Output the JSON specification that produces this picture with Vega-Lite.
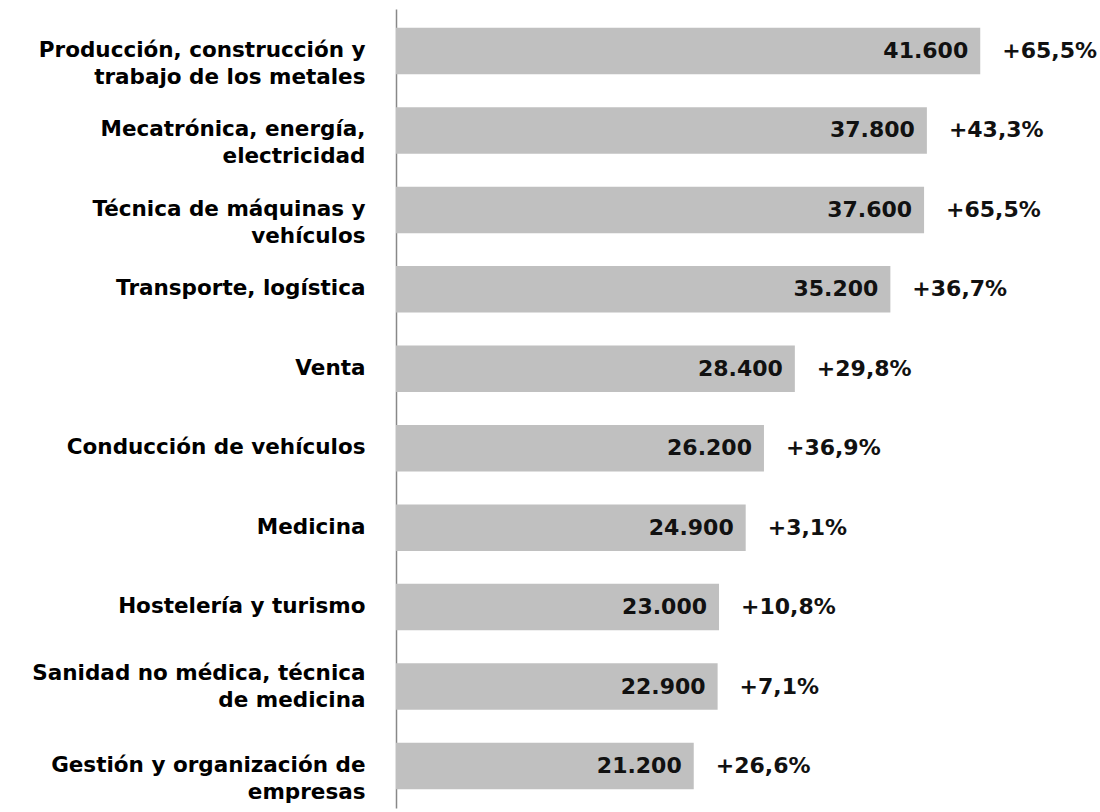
{
  "$schema": "https://vega.github.io/schema/vega-lite/v6.json",
  "width": 632,
  "height": 799,
  "autosize": {"type": "none"},
  "padding": {"left": 396, "top": 9, "right": 72, "bottom": 4},
  "background": "white",
  "config": {
    "view": {"stroke": null},
    "locale": {"number": {"decimal": ",", "thousands": ".", "grouping": [3], "currency": ["", " €"]}}
  },
  "data": {
    "values": [
      {"category": "Producción, construcción y|trabajo de los metales", "value": 41600, "change": 0.655},
      {"category": "Mecatrónica, energía,|electricidad", "value": 37800, "change": 0.433},
      {"category": "Técnica de máquinas y|vehículos", "value": 37600, "change": 0.655},
      {"category": "Transporte, logística", "value": 35200, "change": 0.367},
      {"category": "Venta", "value": 28400, "change": 0.298},
      {"category": "Conducción de vehículos", "value": 26200, "change": 0.369},
      {"category": "Medicina", "value": 24900, "change": 0.031},
      {"category": "Hostelería y turismo", "value": 23000, "change": 0.108},
      {"category": "Sanidad no médica, técnica|de medicina", "value": 22900, "change": 0.071},
      {"category": "Gestión y organización de|empresas", "value": 21200, "change": 0.266}
    ]
  },
  "encoding": {
    "y": {
      "field": "category",
      "type": "nominal",
      "sort": null,
      "scale": {"paddingInner": 0.415, "paddingOuter": 0.237},
      "axis": {
        "title": null,
        "ticks": false,
        "domainColor": "#888888",
        "domainWidth": 1.5,
        "labelPadding": 31,
        "labelFont": "DejaVu Sans",
        "labelFontSize": 21.5,
        "labelFontWeight": "bold",
        "labelColor": "#000000",
        "labelLimit": 400,
        "labelLineHeight": 27,
        "labelExpr": "split(datum.label, '|')",
        "labelBaseline": {"condition": {"test": "indexof(datum.value, 'Sanidad') === 0", "value": "line-bottom"}, "value": "middle"}
      }
    },
    "x": {
      "field": "value",
      "type": "quantitative",
      "scale": {"domain": [0, 45000]},
      "axis": null
    }
  },
  "layer": [
    {"mark": {"type": "bar", "color": "#c0c0c0"}},
    {
      "mark": {"type": "text", "align": "right", "baseline": "middle", "dx": -12, "font": "DejaVu Sans", "fontSize": 22, "fontWeight": "bold", "color": "#111111"},
      "encoding": {"text": {"field": "value", "type": "quantitative", "format": ",.0f"}}
    },
    {
      "mark": {"type": "text", "align": "left", "baseline": "middle", "dx": 22, "font": "DejaVu Sans", "fontSize": 22, "fontWeight": "bold", "color": "#111111"},
      "encoding": {"text": {"field": "change", "type": "quantitative", "format": "+.1%"}}
    }
  ]
}
